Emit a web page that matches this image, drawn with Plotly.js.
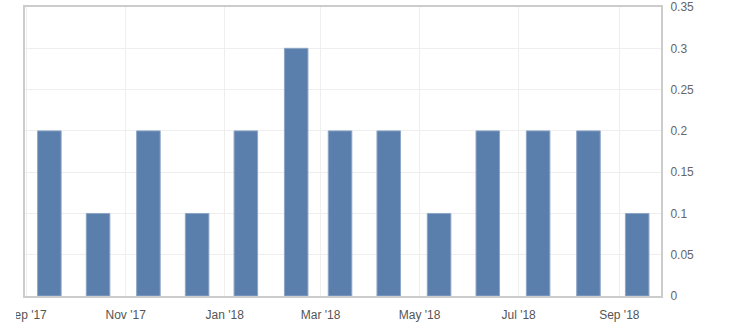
<!DOCTYPE html>
<html>
<head>
<meta charset="utf-8">
<script src="https://cdn.plot.ly/plotly-3.0.1.min.js"></script>
<style>
  html, body { margin: 0; padding: 0; background: #ffffff; }
  #clip { position: absolute; left: 16px; top: 0; width: 714px; height: 332px; overflow: hidden; }
  #chart { position: absolute; left: -16px; top: 0; width: 730px; height: 332px; }
</style>
</head>
<body>
<div id="clip"><div id="chart"></div></div>
<script>
// Release dates (one bar per month, Sep 2017 .. Sep 2018)
const dates = [
  "2017-09-15", "2017-10-15", "2017-11-15", "2017-12-15",
  "2018-01-14", "2018-02-14", "2018-03-13", "2018-04-12",
  "2018-05-13", "2018-06-12", "2018-07-13", "2018-08-13",
  "2018-09-12"
];
const values = [0.2, 0.1, 0.2, 0.1, 0.2, 0.3, 0.2, 0.2, 0.1, 0.2, 0.2, 0.2, 0.1];
const yTicks = [0, 0.05, 0.1, 0.15, 0.2, 0.25, 0.3, 0.35];
const yTickLabels = ["0", "0.05", "0.1", "0.15", "0.2", "0.25", "0.3", "0.35"];

const DAY = 86400000;

const trace = {
  type: "bar",
  x: dates,
  y: values,
  width: dates.map(() => 14.5 * DAY),
  marker: { color: "#5b7fac", line: { color: "#8ea6c6", width: 1 } },
  hoverinfo: "x+y"
};

const layout = {
  width: 730,
  height: 332,
  margin: { l: 25, r: 69, t: 7, b: 36, pad: 0 },
  paper_bgcolor: "#ffffff",
  plot_bgcolor: "#ffffff",
  showlegend: false,
  font: { family: "Liberation Sans, Arial, sans-serif", size: 12, color: "#666666" },
  xaxis: {
    type: "date",
    range: ["2017-08-31", "2018-09-26 16:00"],
    tick0: "2017-09-01",
    dtick: "M2",
    tickformat: "%b '%y",
    showgrid: true,
    gridcolor: "#eeeeee",
    gridwidth: 1,
    showline: true,
    linecolor: "#cccccc",
    linewidth: 2,
    mirror: true,
    ticks: "",
    ticklabelstandoff: 7,
    tickfont: { size: 12, color: "#555555" },
    zeroline: false
  },
  yaxis: {
    side: "right",
    range: [0, 0.35005],
    tickvals: yTicks,
    ticktext: yTickLabels,
    ticklabeloverflow: "allow",
    showgrid: true,
    gridcolor: "#eeeeee",
    gridwidth: 1,
    showline: true,
    linecolor: "#cccccc",
    linewidth: 2,
    mirror: true,
    ticks: "",
    ticklabelstandoff: 5,
    tickfont: { size: 12, color: "#666666" },
    zeroline: false
  },
  bargap: 0
};

Plotly.newPlot("chart", [trace], layout, { displayModeBar: false, staticPlot: true });
</script>
</body>
</html>
